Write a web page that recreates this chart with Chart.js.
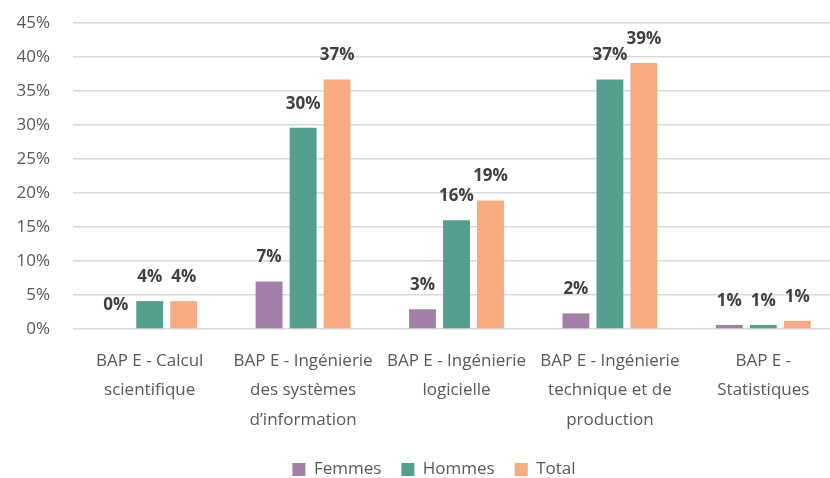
<!doctype html>
<html lang="fr">
  <head>
    <meta charset="utf-8">
    <script src="https://cdn.jsdelivr.net/npm/chart.js@4.4.1/dist/chart.umd.min.js"></script>
    <title>BAP E</title>
    <style>
      html, body { margin: 0; padding: 0; background: #fff; overflow: hidden; }
      #wrap { position: relative; width: 870px; height: 488px; }
    </style>
  </head>
  <body>
    <div id="wrap"><canvas id="graphique"></canvas></div>

  <script>

    // categories (x axis, wrapped as in the original)
    let categories = [
      ['BAP E - Calcul', 'scientifique'],
      ['BAP E - Ingénierie', 'des systèmes', 'd’information'],
      ['BAP E - Ingénierie', 'logicielle'],
      ['BAP E - Ingénierie', 'technique et de', 'production'],
      ['BAP E -', 'Statistiques']
    ];

    // values in %
    let femmes = [0, 7.0, 2.9, 2.3, 0.6];
    let hommes = [4.1, 29.6, 16.0, 36.7, 0.6];
    let total  = [4.1, 36.7, 18.9, 39.1, 1.2];

    let yTicks = [0, 5, 10, 15, 20, 25, 30, 35, 40, 45];

    const police = "'Open Sans', 'Noto Sans', sans-serif";

    // labels au-dessus des barres
    const etiquettes = {
      id: 'etiquettes',
      afterLayout(chart) {
        // legende un peu decalee vers la droite comme dans l'original
        chart.legend.left += 14;
        chart.legend.right += 14;
      },
      afterDatasetsDraw(chart) {
        let ctx = chart.ctx;
        ctx.save();
        ctx.font = "bold 17px " + police;
        ctx.fillStyle = '#404040';
        ctx.textAlign = 'center';
        ctx.textBaseline = 'alphabetic';
        chart.data.datasets.forEach((ds, i) => {
          chart.getDatasetMeta(i).data.forEach((bar, j) => {
            ctx.fillText(Math.round(ds.data[j]) + '%', bar.x, bar.y - 19);
          });
        });
        ctx.restore();
      }
    };

    let canvas = document.getElementById('graphique').getContext('2d');

    new Chart(canvas, {
      type: 'bar',
      data: {
        labels: categories,
        datasets: [
          { label: 'Femmes', data: femmes, backgroundColor: '#A37EA9' },
          { label: 'Hommes', data: hommes, backgroundColor: '#529E8F' },
          { label: 'Total',  data: total,  backgroundColor: '#F8AB81' }
        ]
      },
      options: {
        responsive: true,
        maintainAspectRatio: false,
        animation: false,
        datasets: { bar: { categoryPercentage: 0.665, barPercentage: 0.79 } },
        layout: { padding: { top: 23, right: 30, left: 0, bottom: 0 } },
        plugins: {
          tooltip: { enabled: false },
          legend: {
            position: 'bottom',
            labels: {
              boxWidth: 13, boxHeight: 13, padding: 20,
              color: '#595959',
              font: { family: police, size: 17 }
            }
          }
        },
        scales: {
          x: {
            grid: { display: false },
            border: { display: false },
            ticks: {
              color: '#595959', padding: 9, maxRotation: 0, autoSkip: false,
              font: { family: police, size: 17, lineHeight: 1.75 }
            },
            afterFit: (s) => { s.height = 112; }
          },
          y: {
            min: 0, max: 45,
            afterBuildTicks: (s) => { s.ticks = yTicks.map(v => ({ value: v })); },
            grid: { color: '#D9D9D9', lineWidth: 1.5, drawTicks: false },
            border: { display: false },
            ticks: {
              color: '#595959', padding: 23,
              font: { family: police, size: 17 },
              callback: (v) => v + '%'
            },
            afterFit: (s) => { s.width = 73; s.paddingTop = 0; s.paddingBottom = 0; }
          }
        }
      },
      plugins: [etiquettes]
    });

  </script>
  </body>
</html>
